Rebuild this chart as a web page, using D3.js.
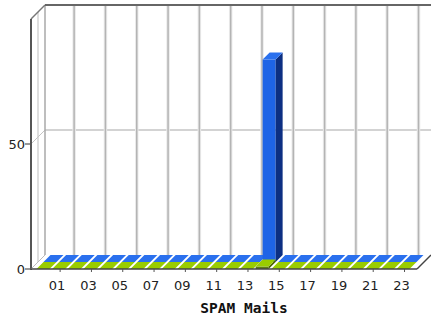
<!DOCTYPE html>
<html><head><meta charset="utf-8">
<script src="https://cdn.jsdelivr.net/npm/d3@7"></script>
<style>html,body{margin:0;padding:0;background:#fff;}svg{display:block;}</style>
</head><body>
<svg id="c" width="431" height="322"></svg>
<script>
const hours = ["00","01","02","03","04","05","06","07","08","09","10","11","12","13","14","15","16","17","18","19","20","21","22","23"];
const greenValues = [0,0,0,0,0,0,0,0,0,0,0,0,0,0,1,0,0,0,0,0,0,0,0,0];
const blueValues  = [0,0,0,0,0,0,0,0,0,0,0,0,0,0,81,0,0,0,0,0,0,0,0,0];
const yTicks = [0, 50];
const tickLabels = ["01","03","05","07","09","11","13","15","17","19","21","23"];
const xTitle = "SPAM Mails";

const svg = d3.select("#c");
const D = 14;            // total depth
const left = 31, right = 415, floorRight = 417;
const x = d3.scaleBand().domain(hours).range([left, right]).paddingInner(0.17).paddingOuter(0.35);
const y = d3.scaleLinear().domain([0, 100]).range([269, 19]);
const bw = x.bandwidth();

// back plane
svg.append("rect").attr("x", left + D).attr("y", y(100) - D).attr("width", 431 - left - D + 5).attr("height", y(0) - y(100)).attr("fill", "#fff");

// back horizontal grid
yTicks.filter(v => v > 0).forEach(v => {
  svg.append("line").attr("x1", left + D).attr("x2", 436).attr("y1", y(v) - D).attr("y2", y(v) - D)
    .attr("stroke", "#c4c4c4").attr("stroke-width", 1.5);
  svg.append("line").attr("x1", left).attr("x2", left + D).attr("y1", y(v)).attr("y2", y(v) - D)
    .attr("stroke", "#c4c4c4").attr("stroke-width", 1);
});
// back vertical grid at labelled hours
tickLabels.forEach(h => {
  const gx = x(h) + bw / 2 + 1.5 + D;
  svg.append("line").attr("x1", gx).attr("x2", gx).attr("y1", y(100) - D).attr("y2", y(0) - D)
    .attr("stroke", "#eaeaea").attr("stroke-width", 3.5);
  svg.append("line").attr("x1", gx).attr("x2", gx).attr("y1", y(100) - D).attr("y2", y(0) - D)
    .attr("stroke", "#b4b4b4").attr("stroke-width", 1.5);
});
// left wall lines
svg.append("line").attr("x1", left + D / 2).attr("x2", left + D / 2).attr("y1", y(100) - D / 2).attr("y2", y(0) - D / 2)
  .attr("stroke", "#c8c8c8").attr("stroke-width", 1.2);
svg.append("line").attr("x1", left + D).attr("x2", left + D).attr("y1", y(100) - D).attr("y2", y(0) - D)
  .attr("stroke", "#a8a8a8").attr("stroke-width", 1.5);

// bars
function bar(g, h, v, z0, z1, cols) {
  const d = z1 - z0;
  const x0 = x(h) + z0, x1 = x0 + bw;
  const yb = y(0) - z0, yt = y(v) - z0;
  if (yb - yt > 0.1) {
    g.append("rect").attr("x", x0).attr("y", yt).attr("width", bw).attr("height", yb - yt).attr("fill", cols.front);
    g.append("polygon").attr("points", [[x1, yt], [x1 + d, yt - d], [x1 + d, yb - d], [x1, yb]].join(" ")).attr("fill", cols.side);
  }
  g.append("polygon").attr("points", [[x0, yt], [x1, yt], [x1 + d, yt - d], [x0 + d, yt - d]].join(" ")).attr("fill", cols.top);
}
const blueCols = { front: "#1e64e6", top: "#2a70ee", side: "#0c2f82" };
const greenCols = { front: "#5f7f10", top: "#99cc00", side: "#4d6600" };
const gBlue = svg.append("g"), gGreen = svg.append("g");
hours.forEach((h, i) => bar(gBlue, h, blueValues[i], D / 2, D, blueCols));
hours.forEach((h, i) => bar(gGreen, h, greenValues[i], 0, D / 2, greenCols));

// frame lines
svg.append("line").attr("x1", left).attr("x2", left + D).attr("y1", y(100)).attr("y2", y(100) - D).attr("stroke", "#777").attr("stroke-width", 1.5);
svg.append("line").attr("x1", left + D).attr("x2", 436).attr("y1", y(100) - D).attr("y2", y(100) - D).attr("stroke", "#666").attr("stroke-width", 2);
svg.append("line").attr("x1", left).attr("x2", left).attr("y1", y(100)).attr("y2", y(0) + 1).attr("stroke", "#555").attr("stroke-width", 2);
// floor outline
svg.append("line").attr("x1", left).attr("x2", left + D).attr("y1", y(0)).attr("y2", y(0) - D).attr("stroke", "#bbb").attr("stroke-width", 1);
svg.append("line").attr("x1", left).attr("x2", floorRight).attr("y1", y(0)).attr("y2", y(0)).attr("stroke", "#444").attr("stroke-width", 1.5);
svg.append("line").attr("x1", floorRight).attr("x2", floorRight + D).attr("y1", y(0)).attr("y2", y(0) - D).attr("stroke", "#444").attr("stroke-width", 1.5);

// y ticks and labels
yTicks.forEach(v => {
  svg.append("line").attr("x1", left - 6).attr("x2", left).attr("y1", y(v)).attr("y2", y(v)).attr("stroke", "#555").attr("stroke-width", 1.2);
  svg.append("text").attr("x", left - 6).attr("y", y(v) + 5).attr("text-anchor", "end")
    .attr("font-family", "DejaVu Sans").attr("font-size", 13).attr("fill", "#222").text(v);
});
// x ticks and labels
tickLabels.forEach(h => {
  const cx = x(h) + bw / 2;
  svg.append("line").attr("x1", cx + 1.5).attr("x2", cx + 1.5).attr("y1", y(0)).attr("y2", y(0) + 3).attr("stroke", "#555").attr("stroke-width", 1);
  svg.append("text").attr("x", cx - 1.5).attr("y", 290).attr("text-anchor", "middle")
    .attr("font-family", "DejaVu Sans").attr("font-size", 13).attr("fill", "#222").text(h);
});
svg.append("text").attr("x", 244).attr("y", 313).attr("text-anchor", "middle")
  .attr("font-family", "DejaVu Sans Mono").attr("font-weight", "bold").attr("font-size", 14.5).attr("fill", "#111").text(xTitle);
</script>
</body></html>
